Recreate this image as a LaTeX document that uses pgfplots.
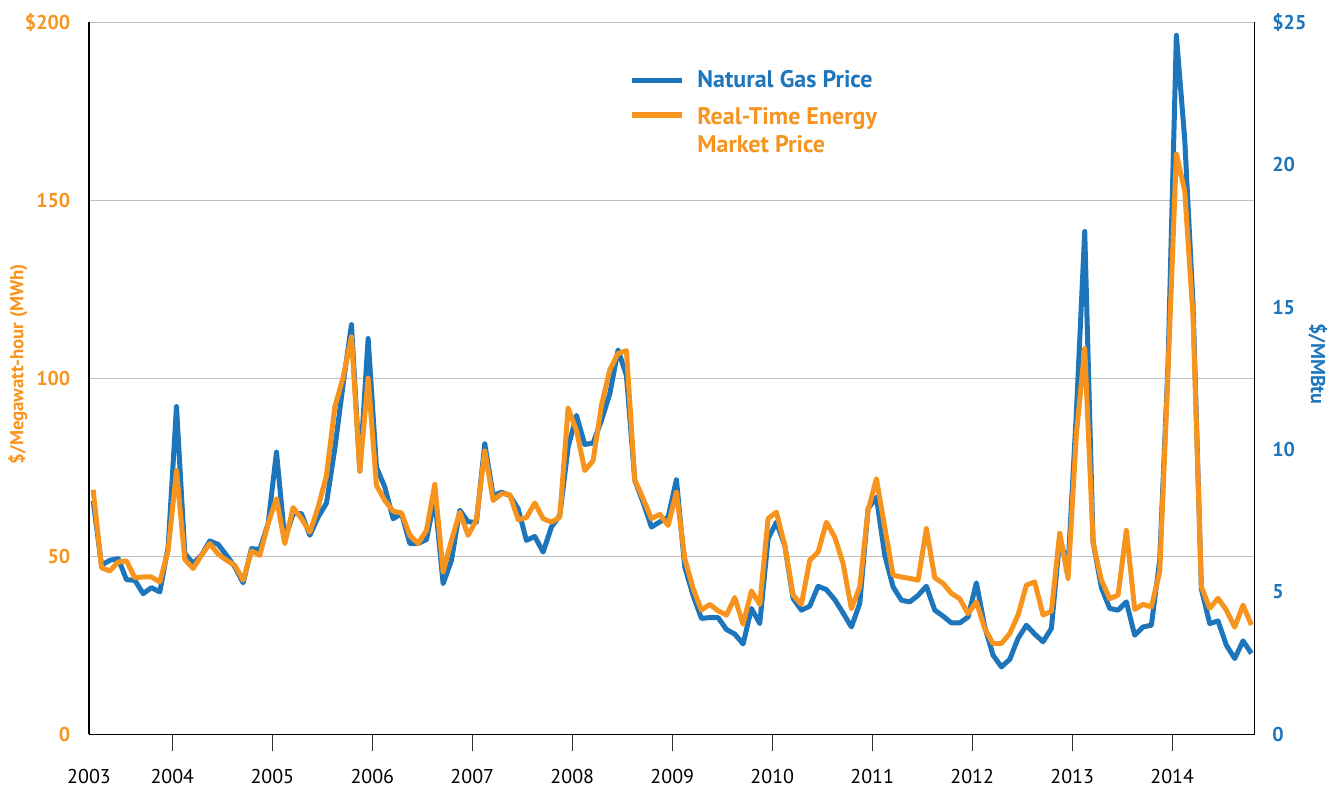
\documentclass[border=0pt]{standalone}
\usepackage{fontspec}
\setmainfont{PT Sans}
\usepackage{pgfplots}
\usepackage{pgfplotstable}
\pgfplotsset{compat=1.18}

\definecolor{gasblue}{RGB}{29,117,188}
\definecolor{rtorange}{RGB}{247,148,30}
\definecolor{gridgray}{RGB}{192,192,192}

% t = months since Jan 2003 (mid-month), rt = $/MWh, gas = $/MMBtu
\pgfplotstableread{
t rt gas
2.5 68.7 8.20
3.5 46.8 5.94
4.5 45.9 6.11
5.5 48.4 6.17
6.5 48.7 5.43
7.5 44.0 5.41
8.5 44.2 4.94
9.5 44.2 5.15
10.5 42.8 5.00
11.5 51.7 6.58
12.5 74.1 11.51
13.5 49.1 6.35
14.5 46.6 6.00
15.5 50.3 6.29
16.5 53.6 6.79
17.5 50.6 6.67
18.5 48.9 6.29
19.5 47.5 5.88
20.5 43.3 5.32
21.5 51.5 6.52
22.5 50.3 6.49
23.5 59.2 7.40
24.5 66.2 9.91
25.5 53.6 6.84
26.5 63.7 7.75
27.5 60.6 7.75
28.5 56.8 6.99
29.5 63.8 7.63
30.5 72.7 8.12
31.5 91.9 10.03
32.5 100.3 12.30
33.5 111.7 14.39
34.5 73.9 9.25
35.5 100.1 13.90
36.5 69.9 9.38
37.5 65.7 8.68
38.5 62.7 7.57
39.5 62.2 7.75
40.5 55.9 6.70
41.5 53.6 6.70
42.5 57.3 6.84
43.5 70.2 8.30
44.5 45.6 5.29
45.5 54.5 6.11
46.5 62.4 7.87
47.5 55.9 7.46
48.5 60.3 7.45
49.5 79.6 10.20
50.5 65.7 8.39
51.5 67.6 8.50
52.5 67.4 8.39
53.5 60.3 7.92
54.5 60.9 6.81
55.5 65.0 6.95
56.5 60.6 6.40
57.5 59.6 7.28
58.5 61.0 7.69
59.5 91.7 10.08
60.5 85.4 11.20
61.5 74.1 10.18
62.5 76.9 10.23
63.5 92.4 11.02
64.5 102.4 11.96
65.5 107.0 13.50
66.5 107.8 12.60
67.5 71.5 8.92
68.5 66.2 8.15
69.5 60.6 7.28
70.5 61.8 7.46
71.5 58.7 7.63
72.5 68.0 8.94
73.5 49.4 5.88
74.5 41.0 4.88
75.5 34.9 4.07
76.5 36.5 4.10
77.5 34.7 4.10
78.5 33.5 3.68
79.5 38.4 3.52
80.5 30.9 3.17
81.5 40.3 4.42
82.5 36.5 3.89
83.5 60.6 6.87
84.5 62.4 7.45
85.5 53.1 6.64
86.5 39.1 4.77
87.5 36.5 4.36
88.5 48.9 4.50
89.5 51.2 5.20
90.5 59.6 5.08
91.5 55.4 4.73
92.5 48.0 4.26
93.5 35.3 3.77
94.5 41.4 4.59
95.5 62.9 7.92
96.5 71.8 8.33
97.5 58.2 6.29
98.5 44.7 5.18
99.5 44.2 4.71
100.5 43.8 4.65
101.5 43.3 4.88
102.5 57.8 5.20
103.5 44.0 4.36
104.5 42.4 4.15
105.5 39.6 3.91
106.5 38.1 3.91
107.5 33.9 4.12
108.5 37.2 5.32
109.5 29.7 3.77
110.5 25.5 2.78
111.5 25.5 2.37
112.5 28.3 2.63
113.5 33.5 3.37
114.5 41.9 3.83
115.5 42.8 3.52
116.5 33.5 3.25
117.5 34.6 3.72
118.5 56.5 6.87
119.5 43.8 5.87
120.5 84.3 11.30
121.5 108.4 17.66
122.5 54.0 6.76
123.5 43.3 5.15
124.5 38.1 4.42
125.5 39.1 4.36
126.5 57.3 4.65
127.5 35.1 3.48
128.5 36.5 3.77
129.5 35.8 3.83
130.5 45.6 6.11
131.5 102.0 13.00
132.5 163.0 24.55
133.5 152.7 20.90
134.5 117.4 15.10
135.5 41.5 5.10
136.5 35.4 3.89
137.5 38.2 3.98
138.5 34.9 3.13
139.5 30.1 2.66
140.5 36.3 3.28
141.5 30.7 2.84
}\prices

\begin{document}
\begin{tikzpicture}
  \pgfplotsset{
    set layers,
    every axis/.append style={
      width=582.85pt, height=355.9pt, scale only axis,
      xmin=2, xmax=141.9,
      /pgf/number format/assume math mode=true,
    },
  }

  % right axis: natural gas
  \begin{axis}[
      axis x line=none,
      axis y line*=right,
      ymin=0, ymax=25,
      ytick={0,5,10,15,20,25},
      yticklabels={0,5,10,15,20,\$25},
      ytick style={draw=none},
      yticklabel style={font=\fontsize{10}{12}\selectfont\bfseries, text=gasblue, xshift=5.3pt},
      ylabel={\$/MMBtu},
      ylabel style={font=\fontsize{10}{12}\selectfont\bfseries, text=gasblue,
        at={(axis description cs:1.054,0.52)}, anchor=center, rotate=180},
      y axis line style={black, line width=0.6pt},
    ]
    \addplot[gasblue, line width=2.5pt, line join=round] table[x=t, y=gas] {\prices};
  \end{axis}

  % left axis: real-time energy price
  \begin{axis}[
      axis x line*=bottom,
      axis y line*=left,
      ymin=0, ymax=200,
      ytick={0,50,100,150,200},
      yticklabels={0,50,100,150,\$200},
      ymajorgrids,
      major grid style={gridgray, line width=0.5pt},
      ytick style={draw=none},
      xtick={12,24,36,48,60,72,84,96,108,120,132},
      xticklabels={2004,2005,2006,2007,2008,2009,2010,2011,2012,2013,2014},
      extra x ticks={2},
      extra x tick labels={2003},
      extra x tick style={xtick style={draw=none}},
      tick align=outside,
      major tick length=8.5pt,
      xtick style={black!80, line width=0.6pt},
      xticklabel style={font=\fontsize{10}{12}\selectfont, text=black, yshift=-5.5pt},
      yticklabel style={font=\fontsize{10}{12}\selectfont\bfseries, text=rtorange, xshift=2.7pt},
      ylabel={\$/Megawatt-hour (MWh)},
      ylabel style={font=\fontsize{9.4}{11}\selectfont\bfseries, text=rtorange,
        at={(axis description cs:-0.061,0.52)}, anchor=center},
      axis line style={black, line width=0.6pt},
    ]
    \addplot[rtorange, line width=2.5pt, line join=round] table[x=t, y=rt] {\prices};

    % legend
    \draw[gasblue, line width=2.6pt] (rel axis cs:0.4658,0.918) -- (rel axis cs:0.5087,0.918);
    \draw[rtorange, line width=2.6pt] (rel axis cs:0.4658,0.870) -- (rel axis cs:0.5087,0.870);
    \node[anchor=base west, inner sep=0pt, text=gasblue, font=\fontsize{12}{14}\selectfont\bfseries]
      at (rel axis cs:0.5216,0.909) {Natural Gas Price};
    \node[anchor=base west, inner sep=0pt, text=rtorange, font=\fontsize{12}{14}\selectfont\bfseries]
      at (rel axis cs:0.5216,0.856) {Real-Time Energy};
    \node[anchor=base west, inner sep=0pt, text=rtorange, font=\fontsize{12}{14}\selectfont\bfseries]
      at (rel axis cs:0.5216,0.817) {Market Price};
  \end{axis}

  \pgfresetboundingbox
  \useasboundingbox (-44.5pt,-26.35pt) rectangle (620.5pt,367.15pt);
\end{tikzpicture}
\end{document}
